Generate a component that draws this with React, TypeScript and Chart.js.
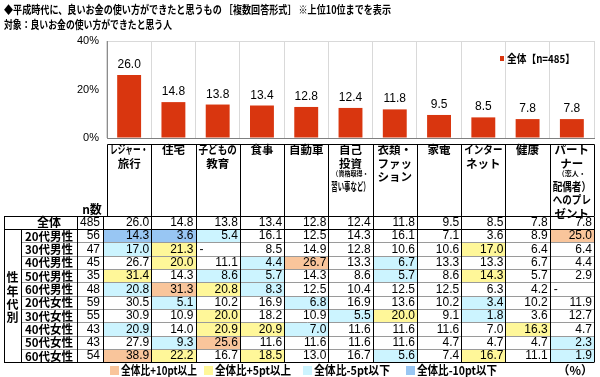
import React, { useEffect, useRef } from "react";
import { Chart, registerables } from "chart.js";

Chart.register(...registerables);

const titleLine1 = "◆平成時代に、良いお金の使い方ができたと思うもの ［複数回答形式］ ※上位10位までを表示";
const titleLine2 = "対象：良いお金の使い方ができたと思う人";
const legendLabel = "全体【n=485】";

const categories = [
  "レジャー・旅行", "住宅", "子どもの教育", "食事", "自動車", "自己投資",
  "衣類・ファッション", "家電", "インターネット", "健康", "パートナーへのプレゼント",
];
const headerLines = [
  ["レジャー・", "旅行"],
  ["住宅"],
  ["子どもの", "教育"],
  ["食事"],
  ["自動車"],
  ["自己", "投資", "（資格取得・", "習い事など）"],
  ["衣類・", "ファッ", "ション"],
  ["家電"],
  ["インター", "ネット"],
  ["健康"],
  ["パート", "ナー", "（恋人・", "配偶者）", "へのプレ", "ゼント"],
];

const totalLabel = "全体";
const totalN = 485;
const totalValues = [26.0, 14.8, 13.8, 13.4, 12.8, 12.4, 11.8, 9.5, 8.5, 7.8, 7.8];

const sideLabel = ["性", "年", "代", "別"];
const groupLabels = ["20代男性", "30代男性", "40代男性", "50代男性", "60代男性", "20代女性", "30代女性", "40代女性", "50代女性", "60代女性"];
const groupN = [56, 47, 45, 35, 48, 59, 55, 43, 43, 54];

const m20 = [14.3, 3.6, 5.4, 16.1, 12.5, 14.3, 16.1, 7.1, 3.6, 8.9, 25.0];
const m30 = [17.0, 21.3, 0, 8.5, 14.9, 12.8, 10.6, 10.6, 17.0, 6.4, 6.4];
const m40 = [26.7, 20.0, 11.1, 4.4, 26.7, 13.3, 6.7, 13.3, 13.3, 6.7, 4.4];
const m50 = [31.4, 14.3, 8.6, 5.7, 14.3, 8.6, 5.7, 8.6, 14.3, 5.7, 2.9];
const m60 = [20.8, 31.3, 20.8, 8.3, 12.5, 10.4, 12.5, 12.5, 6.3, 4.2, 0];
const f20 = [30.5, 5.1, 10.2, 16.9, 6.8, 16.9, 13.6, 10.2, 3.4, 10.2, 11.9];
const f30 = [30.9, 10.9, 20.0, 18.2, 10.9, 5.5, 20.0, 9.1, 1.8, 3.6, 12.7];
const f40 = [20.9, 14.0, 20.9, 20.9, 7.0, 11.6, 11.6, 11.6, 7.0, 16.3, 4.7];
const f50 = [27.9, 9.3, 25.6, 11.6, 11.6, 11.6, 11.6, 4.7, 4.7, 4.7, 2.3];
const f60 = [38.9, 22.2, 16.7, 18.5, 13.0, 16.7, 5.6, 7.4, 16.7, 11.1, 1.9];
const groupValues = [m20, m30, m40, m50, m60, f20, f30, f40, f50, f60];

// O: +10pt以上, Y: +5pt以上, C: -5pt以下, B: -10pt以下, .: none
const highlightCodes = [
  "BBC.......O",
  "CY......Y..",
  ".Y.CO.C....",
  "Y.CC..C.Y..",
  "COYC.......",
  ".C..C...C..",
  "..Y..CY.C..",
  "C.YYC....Y.",
  ".CO.......C",
  "OY.Y..C.Y.C",
];

const keyLabels = ["全体比+10pt以上", "全体比+5pt以上", "全体比-5pt以下", "全体比-10pt以下"];
const keyCodes = ["O", "Y", "C", "B"];
const unitLabel = "（%）";
const nHeader = "n数";

const BAR_COLOR = "#D9360F";
const FILL: Record<string, string> = { O: "#F9C59B", Y: "#FFF799", C: "#CCF4FF", B: "#98C6F3" };
const JP = "'Noto Sans CJK JP', 'Noto Sans', sans-serif";
const NUM = "'Liberation Sans', Arial, sans-serif";

function txt(ctx: CanvasRenderingContext2D, s: string, x: number, y: number, font: string, align: CanvasTextAlign, maxWidth?: number, baseline: CanvasTextBaseline = "middle") {
  ctx.font = font;
  ctx.textAlign = align;
  ctx.textBaseline = baseline;
  ctx.fillStyle = "#000";
  if (maxWidth && ctx.measureText(s).width > maxWidth) ctx.fillText(s, x, y, maxWidth);
  else ctx.fillText(s, x, y);
}

function line(ctx: CanvasRenderingContext2D, x1: number, y1: number, x2: number, y2: number, color: string) {
  ctx.strokeStyle = color;
  ctx.lineWidth = 1;
  ctx.beginPath();
  ctx.moveTo(x1, y1);
  ctx.lineTo(x2, y2);
  ctx.stroke();
}

const px = (v: number) => Math.round(v) + 0.5;

const decorPlugin = {
  id: "decor",
  afterDatasetsDraw(chart: any) {
    const ctx: CanvasRenderingContext2D = chart.ctx;
    const meta = chart.getDatasetMeta(0);
    meta.data.forEach((bar: any, i: number) => {
      txt(ctx, totalValues[i].toFixed(1), bar.x, bar.y - 7, `12px ${NUM}`, "center", undefined, "alphabetic");
    });
  },
  afterDraw(chart: any) {
    const ctx: CanvasRenderingContext2D = chart.ctx;
    const xs = chart.scales.x;
    const area = chart.chartArea;
    ctx.save();

    // titles
    txt(ctx, titleLine1, 4, 10, `bold 11px ${JP}`, "left", 387);
    txt(ctx, titleLine2, 4, 25, `bold 11px ${JP}`, "left", 168);

    // legend
    ctx.fillStyle = BAR_COLOR;
    ctx.fillRect(500, 56, 4, 5);
    txt(ctx, legendLabel, 507, 58.5, `bold 11px ${JP}`, "left", 68);

    const n = categories.length;
    const step = xs.getPixelForValue(1) - xs.getPixelForValue(0);
    const bound = (i: number) => xs.getPixelForValue(0) - step / 2 + i * step;
    const right = bound(n);

    const headerTop = 144;
    const rowTop = 215.5;
    const rowH = 13.35;
    const rowY = (r: number) => rowTop + r * rowH;
    const bottom = rowY(groupLabels.length + 1);
    const nDiv = area.left - 4;

    // cell fills
    groupValues.forEach((vals, r) => {
      vals.forEach((v, c) => {
        const code = highlightCodes[r][c];
        if (FILL[code]) {
          const l = c === 0 ? nDiv : bound(c);
          ctx.fillStyle = FILL[code];
          ctx.fillRect(px(l), px(rowY(r + 1)), px(bound(c + 1)) - px(l), px(rowY(r + 2)) - px(rowY(r + 1)));
        }
      });
    });

    // header
    line(ctx, px(bound(0)), px(headerTop), px(right), px(headerTop), "#000");
    for (let i = 0; i <= n; i++) line(ctx, px(bound(i)), px(headerTop), px(bound(i)), px(rowTop), "#000");
    headerLines.forEach((lines, i) => {
      const cx = (bound(i) + bound(i + 1)) / 2;
      let y = 150;
      lines.forEach((s, k) => {
        const small = s.startsWith("（");
        if (k > 0) y += small ? 10 : 13.3;
        if (small) txt(ctx, s, cx, y, `bold 7px ${JP}`, "center", step - 8);
        else txt(ctx, s, cx, y, `bold 11.5px ${JP}`, "center", step - 6);
      });
    });
    txt(ctx, nHeader, 92, 209.5, `bold 12px ${JP}`, "center");

    // grid lines of table
    line(ctx, 4, px(rowTop), right, px(rowTop), "#000");
    for (let r = 2; r <= groupLabels.length; r++) line(ctx, 21, px(rowY(r)), right, px(rowY(r)), "#9a9a9a");
    line(ctx, 4, px(rowY(1)), right, px(rowY(1)), "#000");
    line(ctx, 4, px(bottom), right, px(bottom), "#000");
    line(ctx, 4.5, px(rowTop), 4.5, px(bottom), "#000");
    line(ctx, 21.5, px(rowY(1)), 21.5, px(bottom), "#000");
    line(ctx, 77.5, px(rowTop), 77.5, px(bottom), "#000");
    line(ctx, px(nDiv), px(rowTop), px(nDiv), px(bottom), "#000");
    for (let i = 1; i <= n; i++) line(ctx, px(bound(i)), px(rowTop), px(bound(i)), px(bottom), "#000");

    // rows text
    const drawRow = (r: number, label: string, nv: number, vals: number[]) => {
      const cy = (rowY(r) + rowY(r + 1)) / 2 + 0.5;
      txt(ctx, label, 49, cy, `bold 12px ${JP}`, "center", 48);
      txt(ctx, String(nv), 100, cy, `12px ${NUM}`, "right");
      vals.forEach((v, c) => {
        if (v === 0) txt(ctx, "-", bound(c) + 4, cy, `12px ${NUM}`, "left");
        else txt(ctx, v.toFixed(1), bound(c + 1) - 2, cy, `12px ${NUM}`, "right");
      });
    };
    drawRow(0, totalLabel, totalN, totalValues);
    groupValues.forEach((vals, r) => drawRow(r + 1, groupLabels[r], groupN[r], vals));

    // side label
    sideLabel.forEach((s, k) => txt(ctx, s, 12.5, 277.7 + k * 13.35, `bold 12px ${JP}`, "center"));

    // key
    const keyX = [110, 204, 303, 406];
    keyLabels.forEach((s, k) => {
      ctx.fillStyle = FILL[keyCodes[k]];
      ctx.fillRect(keyX[k], 366, 9, 9);
      txt(ctx, s, keyX[k] + 11, 370.5, `bold 12px ${JP}`, "left", k === 3 ? 80 : 76);
    });
    txt(ctx, unitLabel, 593, 370.5, `bold 12px ${JP}`, "right");

    ctx.restore();
  },
};

export default function App() {
  const ref = useRef<HTMLCanvasElement>(null);
  useEffect(() => {
    document.body.style.margin = "0";
    const chart = new Chart(ref.current as HTMLCanvasElement, {
      type: "bar",
      data: {
        labels: categories,
        datasets: [
          {
            label: legendLabel,
            data: totalValues,
            backgroundColor: BAR_COLOR,
            barPercentage: 0.54,
            categoryPercentage: 1,
          },
        ],
      },
      options: {
        responsive: false,
        animation: false,
        devicePixelRatio: 1,
        layout: { padding: { top: 41, right: 6, bottom: 239, left: 0 } },
        plugins: { legend: { display: false }, tooltip: { enabled: false } },
        scales: {
          x: {
            offset: true,
            grid: { offset: true, color: "#d9d9d9", drawTicks: false },
            border: { color: "#7f7f7f" },
            ticks: { display: false },
            afterFit: (s: any) => { s.height = 0; },
          },
          y: {
            min: 0,
            max: 40,
            ticks: {
              stepSize: 20,
              callback: (v: any) => v + "%",
              font: { size: 11, family: NUM },
              color: "#000",
              padding: 8,
            },
            grid: {
              color: (c: any) => (c.tick && c.tick.value === 40 ? "#d9d9d9" : "rgba(0,0,0,0)"),
              drawTicks: false,
            },
            border: { color: "#8c8c8c" },
            afterFit: (s: any) => { s.width = 107; },
          },
        },
      } as any,
      plugins: [decorPlugin],
    });
    return () => chart.destroy();
  }, []);
  return (
    <div style={{ position: "absolute", left: 0, top: 0, width: 600, height: 377, background: "#fff" }}>
      <canvas ref={ref} width={600} height={377} />
    </div>
  );
}
